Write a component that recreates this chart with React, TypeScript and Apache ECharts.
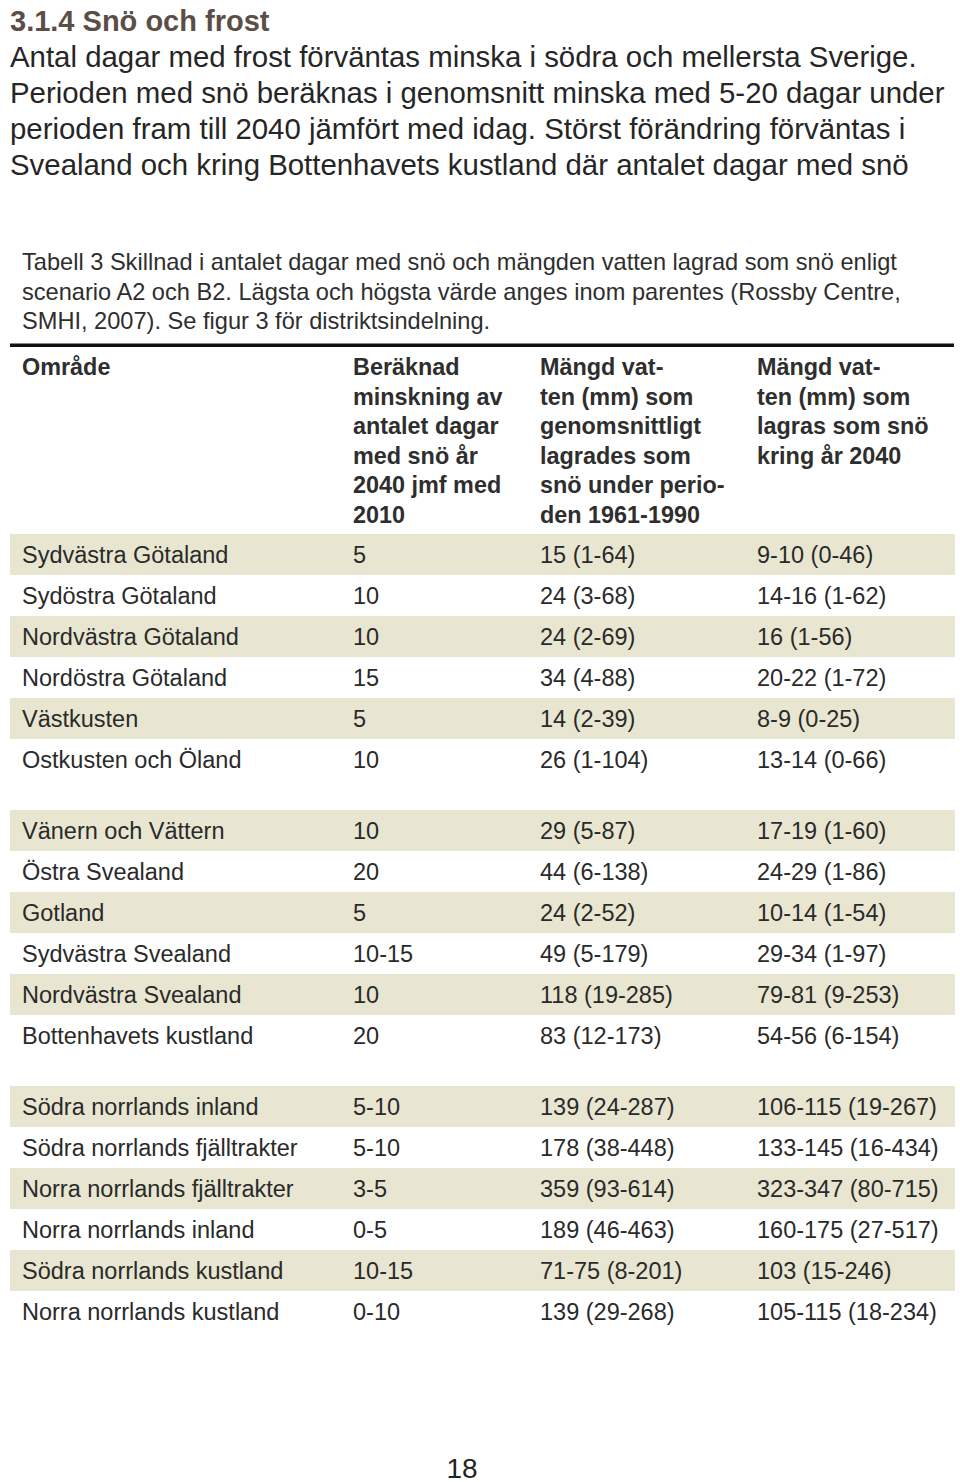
import React, { useEffect, useRef } from "react";
import * as echarts from "echarts";

const sectionTitle = "3.1.4 Snö och frost";
const introLines = [
  "Antal dagar med frost förväntas minska i södra och mellersta Sverige.",
  "Perioden med snö beräknas i genomsnitt minska med 5-20 dagar under",
  "perioden fram till 2040 jämfört med idag. Störst förändring förväntas i",
  "Svealand och kring Bottenhavets kustland där antalet dagar med snö",
];
const captionLines = [
  "Tabell 3 Skillnad i antalet dagar med snö och mängden vatten lagrad som snö enligt",
  "scenario A2 och B2. Lägsta och högsta värde anges inom parentes (Rossby Centre,",
  "SMHI, 2007). Se figur 3 för distriktsindelning.",
];
const headerCols = [
  ["Område"],
  ["Beräknad", "minskning av", "antalet dagar", "med snö år", "2040 jmf med", "2010"],
  ["Mängd vat-", "ten (mm) som", "genomsnittligt", "lagrades som", "snö under perio-", "den 1961-1990"],
  ["Mängd vat-", "ten (mm) som", "lagras som snö", "kring år 2040"],
];
const regions = [
  ["Sydvästra Götaland", "Sydöstra Götaland", "Nordvästra Götaland", "Nordöstra Götaland", "Västkusten", "Ostkusten och Öland"],
  ["Vänern och Vättern", "Östra Svealand", "Gotland", "Sydvästra Svealand", "Nordvästra Svealand", "Bottenhavets kustland"],
  ["Södra norrlands inland", "Södra norrlands fjälltrakter", "Norra norrlands fjälltrakter", "Norra norrlands inland", "Södra norrlands kustland", "Norra norrlands kustland"],
];
const daysReduction = [
  ["5", "10", "10", "15", "5", "10"],
  ["10", "20", "5", "10-15", "10", "20"],
  ["5-10", "5-10", "3-5", "0-5", "10-15", "0-10"],
];
const water1961 = [
  ["15 (1-64)", "24 (3-68)", "24 (2-69)", "34 (4-88)", "14 (2-39)", "26 (1-104)"],
  ["29 (5-87)", "44 (6-138)", "24 (2-52)", "49 (5-179)", "118 (19-285)", "83 (12-173)"],
  ["139 (24-287)", "178 (38-448)", "359 (93-614)", "189 (46-463)", "71-75 (8-201)", "139 (29-268)"],
];
const water2040 = [
  ["9-10 (0-46)", "14-16 (1-62)", "16 (1-56)", "20-22 (1-72)", "8-9 (0-25)", "13-14 (0-66)"],
  ["17-19 (1-60)", "24-29 (1-86)", "10-14 (1-54)", "29-34 (1-97)", "79-81 (9-253)", "54-56 (6-154)"],
  ["106-115 (19-267)", "133-145 (16-434)", "323-347 (80-715)", "160-175 (27-517)", "103 (15-246)", "105-115 (18-234)"],
];
const pageNumber = "18";

const FONT = '"Liberation Sans", Arial, Helvetica, sans-serif';

export default function App() {
  const ref = useRef<HTMLDivElement>(null);
  useEffect(() => {
    document.body.style.margin = "0";
    if (!ref.current) return;
    const chart = echarts.init(ref.current, null, { renderer: "svg" });
    const els: any[] = [];
    const txt = (x: number, y: number, text: string, size: number, opts: any = {}) => {
      els.push({
        type: "text",
        x,
        y,
        silent: true,
        style: {
          text,
          fontFamily: FONT,
          fontSize: size,
          fontWeight: opts.bold ? "bold" : "normal",
          fill: opts.fill || "#2a2a2a",
          align: opts.align || "left",
          verticalAlign: "middle",
        },
      });
    };

    // heading
    txt(10, 21, sectionTitle, 29, { bold: true, fill: "#5a4e46" });
    introLines.forEach((l, i) => txt(10, 56 + i * 36, l, 29.4, { fill: "#262626" }));
    captionLines.forEach((l, i) => txt(22, 262 + i * 29.5, l, 23.6, { fill: "#2e2e2e" }));

    // thick header rule
    els.push({
      type: "rect",
      shape: { x: 10, y: 343.5, width: 944, height: 3.5 },
      style: { fill: "#111" },
      silent: true,
    });

    const colX = [22, 353, 540, 757];
    headerCols.forEach((lines, c) =>
      lines.forEach((l, i) => txt(colX[c], 367 + i * 29.6, l, 23.4, { bold: true, fill: "#2e2e2e" }))
    );

    const rowH = 41;
    const gap = 30;
    let top = 534;
    regions.forEach((grp, g) => {
      grp.forEach((name, r) => {
        const y = top + r * rowH;
        if (r % 2 === 0) {
          els.push({
            type: "rect",
            shape: { x: 10, y, width: 945, height: rowH },
            style: { fill: "#e8e6d1" },
            silent: true,
          });
        }
        const cy = y + rowH / 2 + 0.5;
        txt(colX[0], cy, name, 23.5);
        txt(colX[1], cy, daysReduction[g][r], 23.5);
        txt(colX[2], cy, water1961[g][r], 23.5);
        txt(colX[3], cy, water2040[g][r], 23.5);
      });
      top += grp.length * rowH + gap;
    });

    txt(462, 1468, pageNumber, 28, { align: "center", fill: "#222" });

    chart.setOption({
      animation: false,
      backgroundColor: "#ffffff",
      graphic: { elements: els },
    });
    return () => chart.dispose();
  }, []);
  return <div ref={ref} style={{ width: 960, height: 1482 }} />;
}
